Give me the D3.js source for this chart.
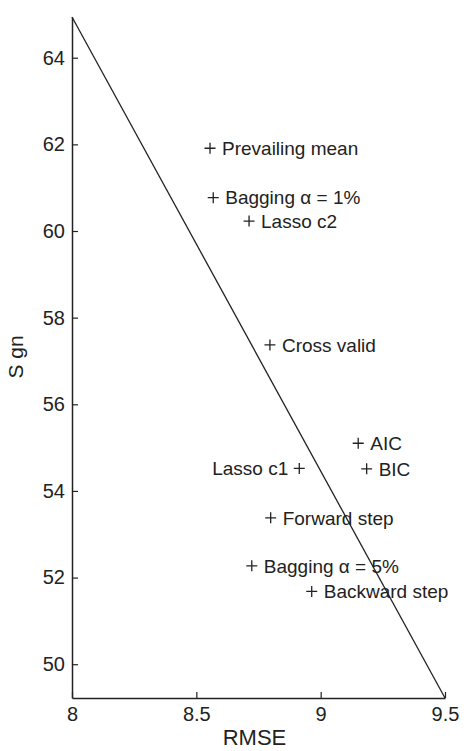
<!DOCTYPE html>
<html><head><meta charset="utf-8">
<script src="https://cdn.jsdelivr.net/npm/d3@7"></script>
<style>body{margin:0;background:#fff}svg{display:block}text{font-family:"Liberation Sans",Arial,sans-serif;fill:#222}</style>
</head><body><div id="c"></div>
<script>
const methods = ["Prevailing mean","Bagging α = 1%","Lasso c2","Cross valid","AIC","BIC","Lasso c1","Forward step","Bagging α = 5%","Backward step"];
const rmse = [8.555, 8.568, 8.712, 8.796, 9.151, 9.185, 8.914, 8.799, 8.723, 8.964];
const sgn  = [61.91, 60.77, 60.23, 57.37, 55.10, 54.51, 54.52, 53.38, 52.27, 51.68];
const labelSide = ["r","r","r","r","r","r","l","r","r","r"];
const xTicks = [8, 8.5, 9, 9.5];
const yTicks = [50, 52, 54, 56, 58, 60, 62, 64];
const lineX = [8, 9.5];
const lineY = [64.94, 49.22];

const W = 470, H = 751, m = {l:72, r:25, t:17, b:53};
const svg = d3.select("#c").append("svg").attr("width",W).attr("height",H);
const x = d3.scaleLinear().domain([8,9.5]).range([m.l, W-m.r]);
const y = d3.scaleLinear().domain([49.22,64.94]).range([H-m.b, m.t]);

const fmt = d => String(d);
const gx = svg.append("g").attr("transform",`translate(0,${H-m.b})`)
  .call(d3.axisBottom(x).tickValues(xTicks).tickFormat(fmt).tickSizeInner(-6).tickSizeOuter(0).tickPadding(9));
const gy = svg.append("g").attr("transform",`translate(${m.l},0)`)
  .call(d3.axisLeft(y).tickValues(yTicks).tickFormat(fmt).tickSizeInner(-6).tickSizeOuter(0).tickPadding(7));
[gx,gy].forEach(g=>{
  g.select(".domain").attr("stroke","#222").attr("stroke-width",1.5);
  g.selectAll(".tick line").attr("stroke","#222").attr("stroke-width",1.2);
  g.selectAll(".tick text").attr("font-size",20).attr("fill","#222").style("font-family",'"Liberation Sans",Arial,sans-serif');
});

svg.append("text").attr("x",x(8.75)-4).attr("y",745).attr("text-anchor","middle").attr("font-size",22).text("RMSE");
svg.append("text").attr("transform",`translate(23,357) rotate(-90)`).attr("text-anchor","middle").attr("font-size",21).text("S gn");

svg.append("line").attr("x1",x(lineX[0])).attr("y1",y(lineY[0])).attr("x2",x(lineX[1])).attr("y2",y(lineY[1]))
  .attr("stroke","#222").attr("stroke-width",1.3);

const pts = methods.map((n,i)=>({n, rx:rmse[i], sy:sgn[i], side:labelSide[i]}));
const g = svg.append("g");
const s = 5.5;
g.selectAll("path.p").data(pts).join("path")
  .attr("d", d=>{const cx=x(d.rx), cy=y(d.sy); return `M${cx-s},${cy}H${cx+s}M${cx},${cy-s}V${cy+s}`;})
  .attr("stroke","#222").attr("stroke-width",1.3).attr("fill","none");
g.selectAll("text.l").data(pts).join("text")
  .attr("x", d=> d.side==="r" ? x(d.rx)+12 : x(d.rx)-11)
  .attr("y", d=> y(d.sy))
  .attr("dy","0.36em")
  .attr("text-anchor", d=> d.side==="r" ? "start" : "end")
  .attr("font-size",19)
  .text(d=>d.n);
</script></body></html>
